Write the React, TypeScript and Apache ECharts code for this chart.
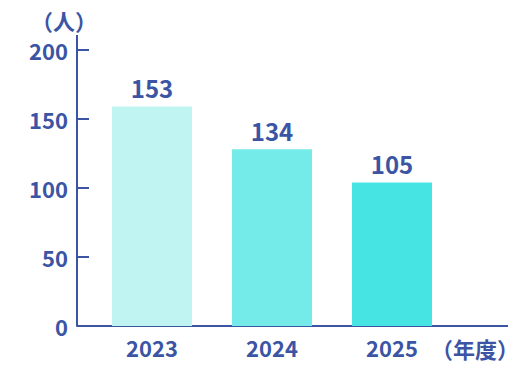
import React, { useEffect, useRef } from "react";
import * as echarts from "echarts";

const years = ["2023", "2024", "2025"];
const barHeights = [159, 128, 104];
const barLabels = [153, 134, 105];
const barColors = ["#bff4f2", "#75ebe9", "#46e5e4"];
const yTicks = [0, 50, 100, 150, 200];

const AXIS = "#3b54a4";
const FONT = "'Noto Sans CJK JP', 'Noto Sans', sans-serif";

export default function App() {
  const ref = useRef<HTMLDivElement>(null);
  useEffect(() => {
    if (!ref.current) return;
    const chart = echarts.init(ref.current, null, { renderer: "svg" });
    chart.setOption({
      animation: false,
      grid: { left: 92, right: 76, top: 50, bottom: 42 },
      xAxis: {
        type: "category",
        data: years,
        axisLine: { show: false },
        axisTick: { show: false },
        axisLabel: {
          color: AXIS,
          fontFamily: FONT,
          fontWeight: "bold",
          fontSize: 22,
          margin: 10,
        },
      },
      yAxis: {
        type: "value",
        min: yTicks[0],
        max: yTicks[yTicks.length - 1],
        interval: 50,
        offset: 15,
        splitLine: { show: false },
        axisLine: { show: true, lineStyle: { color: AXIS, width: 2 } },
        axisTick: { show: true, inside: true, length: 12, lineStyle: { color: AXIS, width: 2 } },
        axisLabel: {
          color: AXIS,
          fontFamily: FONT,
          fontWeight: "bold",
          fontSize: 22,
          margin: 9,
        },
      },
      series: [
        {
          type: "bar",
          barWidth: 80,
          data: barHeights.map((v, i) => ({
            value: v,
            itemStyle: { color: barColors[i] },
            label: {
              show: true,
              position: "top",
              distance: 7,
              formatter: String(barLabels[i]),
              color: AXIS,
              fontFamily: FONT,
              fontWeight: "bold",
              fontSize: 24,
            },
          })),
        },
      ],
      graphic: [
        {
          type: "line",
          shape: { x1: 77, y1: 326, x2: 508, y2: 326 },
          style: { stroke: AXIS, lineWidth: 2 },
        },
        {
          type: "line",
          shape: { x1: 77, y1: 35, x2: 77, y2: 51 },
          style: { stroke: AXIS, lineWidth: 2 },
        },
        {
          type: "text",
          x: 31,
          y: 20,
          style: {
            text: "（人）",
            fill: AXIS,
            font: `bold 22px ${FONT}`,
            textVerticalAlign: "middle",
          },
        },
        {
          type: "text",
          x: 431,
          y: 348,
          style: {
            text: "（年度）",
            fill: AXIS,
            font: `bold 22px ${FONT}`,
            textVerticalAlign: "middle",
          },
        },
      ],
    });
    return () => chart.dispose();
  }, []);
  return (
    <div
      ref={ref}
      style={{ position: "absolute", left: 0, top: 0, width: 528, height: 368 }}
    />
  );
}
